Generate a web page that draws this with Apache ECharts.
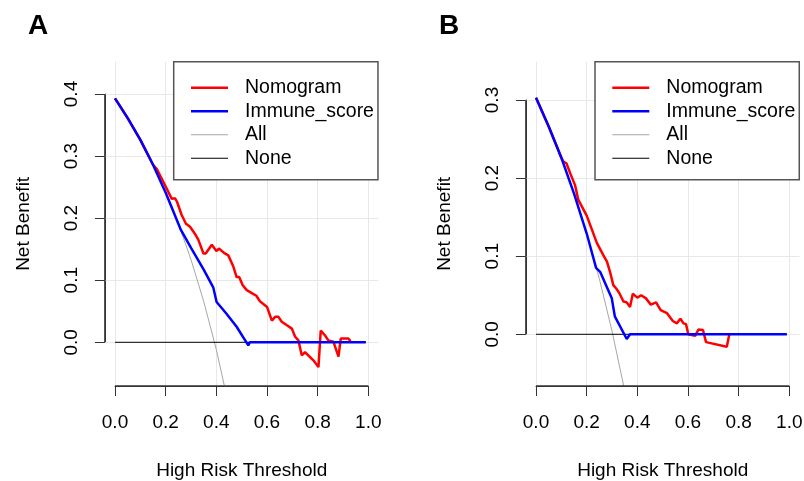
<!DOCTYPE html>
<html>
<head>
<meta charset="utf-8">
<script src="https://cdn.jsdelivr.net/npm/echarts@6.0.0/dist/echarts.min.js"></script>
<style>
html,body{margin:0;padding:0;background:#fff;}
#chart{width:804px;height:481px;}
</style>
</head>
<body>
<div id="chart"></div>
<script>
// ---------- data ----------
const xTicks = [0, 0.2, 0.4, 0.6, 0.8, 1.0];
const yTicksA = [0, 0.1, 0.2, 0.3, 0.4];
const yTicksB = [0, 0.1, 0.2, 0.3];
const seriesNames = ['Nomogram', 'Immune_score', 'All', 'None'];

// Panel A
const nomogramA = [[0,0.393],[0.05,0.361],[0.1,0.326],[0.15,0.286],[0.165,0.279],[0.195,0.255],[0.224,0.231],[0.237,0.232],[0.245,0.226],[0.263,0.205],[0.28,0.191],[0.296,0.186],[0.315,0.175],[0.329,0.165],[0.349,0.143],[0.358,0.143],[0.382,0.157],[0.4,0.147],[0.41,0.151],[0.43,0.144],[0.447,0.140],[0.467,0.122],[0.48,0.105],[0.49,0.105],[0.504,0.092],[0.52,0.084],[0.545,0.078],[0.558,0.075],[0.572,0.066],[0.6,0.057],[0.619,0.035],[0.632,0.041],[0.645,0.041],[0.658,0.033],[0.68,0.027],[0.698,0.022],[0.711,0.009],[0.724,0.003],[0.737,-0.021],[0.75,-0.016],[0.783,-0.029],[0.803,-0.040],[0.812,0.019],[0.829,0.011],[0.842,0.003],[0.862,0.001],[0.869,-0.002],[0.882,-0.023],[0.891,0.006],[0.921,0.006],[0.930,0.002]];
const immuneA = [[0,0.393],[0.05,0.361],[0.1,0.326],[0.15,0.286],[0.2,0.241],[0.25,0.191],[0.26,0.181],[0.3,0.152],[0.35,0.117],[0.388,0.088],[0.401,0.065],[0.44,0.046],[0.48,0.025],[0.526,-0.005],[0.532,0],[0.99,0]];
const allA = [[0,0.393],[0.05,0.361],[0.1,0.326],[0.15,0.286],[0.2,0.241],[0.25,0.191],[0.3,0.133],[0.35,0.066],[0.4,-0.012],[0.45,-0.104]];
const noneA = [[0,0],[0.99,0]];

// Panel B
const nomogramB = [[0,0.303],[0.05,0.266],[0.1,0.226],[0.108,0.221],[0.12,0.219],[0.135,0.206],[0.154,0.191],[0.167,0.172],[0.2,0.152],[0.24,0.117],[0.266,0.101],[0.28,0.093],[0.292,0.080],[0.305,0.063],[0.318,0.058],[0.33,0.052],[0.345,0.042],[0.357,0.041],[0.364,0.038],[0.371,0.035],[0.382,0.052],[0.4,0.047],[0.415,0.050],[0.434,0.046],[0.453,0.038],[0.474,0.041],[0.492,0.031],[0.517,0.027],[0.540,0.017],[0.556,0.014],[0.570,0.020],[0.582,0.014],[0.592,0.013],[0.601,0.0],[0.628,-0.002],[0.641,0.006],[0.659,0.0055],[0.671,-0.010],[0.753,-0.016],[0.763,0]];
const immuneB = [[0,0.303],[0.05,0.266],[0.1,0.226],[0.15,0.180],[0.2,0.129],[0.237,0.085],[0.253,0.080],[0.299,0.046],[0.311,0.023],[0.358,-0.006],[0.371,0],[0.99,0]];
const allB = [[0,0.303],[0.05,0.266],[0.1,0.226],[0.15,0.180],[0.2,0.129],[0.25,0.071],[0.3,0.004],[0.35,-0.072]];
const noneB = [[0,0],[0.99,0]];

// ---------- chart ----------
const FONT = '"Liberation Sans", Arial, Helvetica, sans-serif';
const AX = '#333';
const GRIDC = '#e8e8e8';
const HIDDEN = {axisLine: {show: false}, axisTick: {show: false}, axisLabel: {show: false}, splitLine: {show: false}};
const NB = 'none';

function mainX(grid, name) {
  return Object.assign({gridIndex: grid, type: 'value', min: -0.04, max: 1.04,
    name: name, nameLocation: 'middle', nameGap: 75,
    nameTextStyle: {fontFamily: FONT, fontSize: 19, color: '#000'}}, HIDDEN);
}
function mainY(grid, mn, mx) {
  return Object.assign({gridIndex: grid, type: 'value', min: mn, max: mx,
    name: 'Net Benefit', nameLocation: 'middle', nameGap: 72,
    nameTextStyle: {fontFamily: FONT, fontSize: 19, color: '#000'}}, HIDDEN);
}
function hiddenAxis(grid, mn, mx) {
  return Object.assign({gridIndex: grid, type: 'value', min: mn, max: mx}, HIDDEN);
}
function decoX(grid) {
  return {gridIndex: grid, type: 'value', min: 0, max: 1, interval: 0.2, position: 'bottom',
    axisLine: {show: true, onZero: false, lineStyle: {color: AX, width: 1}},
    axisTick: {show: true, inside: false, length: 10, lineStyle: {color: AX, width: 1}},
    axisLabel: {show: true, fontFamily: FONT, fontSize: 19, color: '#000', margin: 27,
      showMinLabel: true, showMaxLabel: true, formatter: v => v.toFixed(1)},
    splitLine: {show: false}};
}
function decoY(grid, mx) {
  return {gridIndex: grid, type: 'value', min: 0, max: mx, interval: 0.1, position: 'left',
    axisLine: {show: true, onZero: false, lineStyle: {color: AX, width: 1}},
    axisTick: {show: true, inside: false, length: 10, lineStyle: {color: AX, width: 1}},
    axisLabel: {show: true, fontFamily: FONT, fontSize: 19, color: '#000', margin: 24, rotate: 90,
      showMinLabel: true, showMaxLabel: true, formatter: v => v.toFixed(1)},
    splitLine: {show: false}};
}
function gridSeries(xi, yi, yTicks) {
  return {type: 'line', xAxisIndex: xi, yAxisIndex: yi, data: [], z: 1, silent: true,
    markLine: {silent: true, z: 1, symbol: ['none', 'none'], animation: false,
      label: {show: false},
      lineStyle: {color: GRIDC, width: 1, type: 'solid'},
      emphasis: {disabled: true},
      data: xTicks.map(v => ({xAxis: v})).concat(yTicks.map(v => ({yAxis: v})))}};
}
function lineS(name, data, xi, yi, color, width, z) {
  return {name: name, type: 'line', xAxisIndex: xi, yAxisIndex: yi, data: data,
    symbol: 'none', showSymbol: false, clip: true, z: z,
    lineStyle: {color: color, width: width}, itemStyle: {color: color},
    emphasis: {disabled: true}};
}
function barIcon(th) {
  const y0 = (14 - th) / 2;
  return 'path://M0,0h0.01v0.01h-0.01z M0,' + y0 + 'h37v' + th + 'h-37z M36.99,13.99h0.01v0.01h-0.01z';
}
function legendAt(left) {
  return {show: true, orient: 'vertical', left: left, top: 61.7, z: 10,
    data: [
      {name: 'Nomogram', icon: barIcon(2.5)},
      {name: 'Immune_score', icon: barIcon(2.5)},
      {name: 'All', icon: barIcon(1)},
      {name: 'None', icon: barIcon(1)}
    ],
    backgroundColor: '#fff', borderColor: '#555', borderWidth: 1.5,
    padding: [16, 4, 11.6, 17.3], itemWidth: 37, itemHeight: 14, itemGap: 3.5,
    selectedMode: false, symbolKeepAspect: false,
    textStyle: {fontFamily: FONT, fontSize: 19.5, color: '#000', lineHeight: 20, padding: [0, 0, 0, 12]}};
}
// thin grids whose border traces the R axis line (0..1 on x, 0..max on y)
function edgeGrid(left, top, width, height) {
  return {left: left, top: top, width: width, height: height, outerBoundsMode: NB,
    show: true, borderColor: AX, borderWidth: 1, backgroundColor: 'transparent', z: 6};
}

const option = {
  animation: false,
  backgroundColor: '#fff',
  grid: [
    {left: 104.9, top: 61.7, width: 273.6, height: 324.3, outerBoundsMode: NB},   // 0 main A
    {left: 525.9, top: 61.7, width: 273.6, height: 324.3, outerBoundsMode: NB},   // 1 main B
    edgeGrid(115, 386, 253.3, 0),        // 2 x axis A
    edgeGrid(104.9, 94, 0.01, 248.3),    // 3 y axis A
    edgeGrid(536, 386, 253.3, 0),        // 4 x axis B
    edgeGrid(525.9, 100, 0.01, 234.3)    // 5 y axis B
  ],
  xAxis: [
    mainX(0, 'High Risk Threshold'),
    mainX(1, 'High Risk Threshold'),
    decoX(2), hiddenAxis(3, 0, 1), decoX(4), hiddenAxis(5, 0, 1)
  ],
  yAxis: [
    mainY(0, -0.0704, 0.452),
    mainY(1, -0.0662, 0.349),
    hiddenAxis(2, 0, 1), decoY(3, 0.4), hiddenAxis(4, 0, 1), decoY(5, 0.3)
  ],
  legend: [legendAt(173.7), legendAt(595)],
  graphic: [
    {type: 'text', left: 28, top: 12, z: 10, style: {text: 'A', fontFamily: FONT, fontSize: 28, fontWeight: 'bold', fill: '#000'}},
    {type: 'text', left: 439, top: 12, z: 10, style: {text: 'B', fontFamily: FONT, fontSize: 28, fontWeight: 'bold', fill: '#000'}}
  ],
  series: [
    gridSeries(0, 0, yTicksA),
    lineS('All', allA, 0, 0, '#a6a6a6', 1, 2),
    lineS('None', noneA, 0, 0, '#000', 1, 3),
    lineS('Nomogram', nomogramA, 0, 0, '#ff0000', 2.5, 4),
    lineS('Immune_score', immuneA, 0, 0, '#0000ff', 2.5, 5),
    gridSeries(1, 1, yTicksB),
    lineS('All', allB, 1, 1, '#a6a6a6', 1, 2),
    lineS('None', noneB, 1, 1, '#000', 1, 3),
    lineS('Nomogram', nomogramB, 1, 1, '#ff0000', 2.5, 4),
    lineS('Immune_score', immuneB, 1, 1, '#0000ff', 2.5, 5),
    {type: 'line', xAxisIndex: 2, yAxisIndex: 2, data: [], silent: true},
    {type: 'line', xAxisIndex: 3, yAxisIndex: 3, data: [], silent: true},
    {type: 'line', xAxisIndex: 4, yAxisIndex: 4, data: [], silent: true},
    {type: 'line', xAxisIndex: 5, yAxisIndex: 5, data: [], silent: true}
  ]
};

const chart = echarts.init(document.getElementById('chart'), null, {renderer: 'canvas'});
chart.setOption(option);
</script>
</body>
</html>
